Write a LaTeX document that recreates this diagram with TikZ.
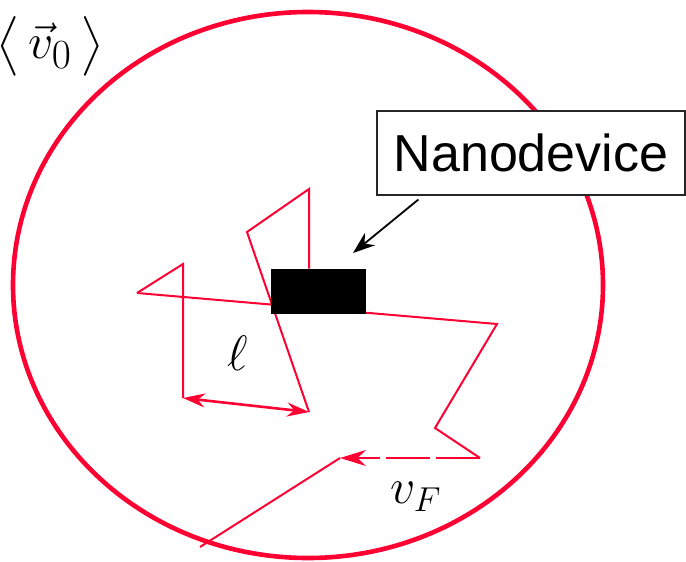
\documentclass[tikz,border=0pt]{standalone}
\usepackage{amsmath}
\usepackage{fontspec}
\setmainfont{Liberation Sans}
\usepackage{tikz}
\usetikzlibrary{arrows.meta, positioning, backgrounds}
\definecolor{walkred}{RGB}{255,0,51}
\tikzset{
  rim/.style={draw=walkred, line width=2.3pt},
  walk/.style={draw=walkred, line width=1pt},
  hop/.style={draw=walkred, line width=1.3pt,
              {Stealth[length=11pt, width=7pt]}-{Stealth[length=11pt, width=7pt]}},
  lastleg/.style={draw=walkred, line width=1pt, dash pattern=on 22pt off 3pt,
                  -{Stealth[length=13pt, width=8pt]}},
  pointer/.style={draw=black, line width=0.9pt, -{Stealth[length=11pt, width=8pt]}},
  devbox/.style={rectangle, fill=black, inner sep=0pt,
                 minimum width=47.5pt, minimum height=22.5pt},
  tagbox/.style={rectangle, draw=black!85, fill=white, line width=0.75pt,
                 inner sep=0pt, minimum width=154pt, minimum height=42pt,
                 font=\fontsize{26}{30}\selectfont},
  mathlbl/.style={inner sep=0pt, font=\fontsize{26}{30}\selectfont},
}

\begin{document}
\begin{tikzpicture}[x=0.5pt, y=-0.5pt]
    \useasboundingbox (0,0) rectangle (686,562);
    %% Corners of the walk
    \foreach \n/\x/\y in {a/137/293, b/183/264, c/183/398, i/309/412,
                          j/247/232, k/309/189, d/497/324, e/435/428,
                          f/480/458, g/340/458, h/200/547}{
      \coordinate (\n) at (\x,\y);
    }
    \coordinate (tail) at (423,201);
    \coordinate (tip) at (353,253);
    %% Device and its tag
    \node[devbox] (dev) at (318.5,291.5) {};
    \node[tagbox] (tag) at (531,153) {Nanodevice};
    \begin{scope}[on background layer]
      %% Outer region
      \draw[rim] (308,285) ellipse [x radius=295, y radius=273];
      %% Walk
      \draw[walk] (a) -- (b) -- (c);
      \draw[walk] (a) -- (d) -- (e) -- (f);
      \draw[walk] (i) -- (j) -- (k) -- (k |- dev.north);
      \draw[lastleg] (f) -- (g);
      \draw[walk] (g) -- (h);
    \end{scope}
    %% Mean free path
    \draw[hop] (c) -- (i);
    \draw[pointer, shorten <=3pt] (tag.south -| tail) -- (tip);
    %% Labels
    \node[mathlbl] (len) at (238,353) {$\ell$};
    \node[mathlbl] (vf) at (416,497) {$v_F$};
    \node[mathlbl, font=\fontsize{28}{32}\selectfont] (avg) at (50,46)
      {$\big\langle\,\vec{v}_0\,\big\rangle$};
\end{tikzpicture}
\end{document}
